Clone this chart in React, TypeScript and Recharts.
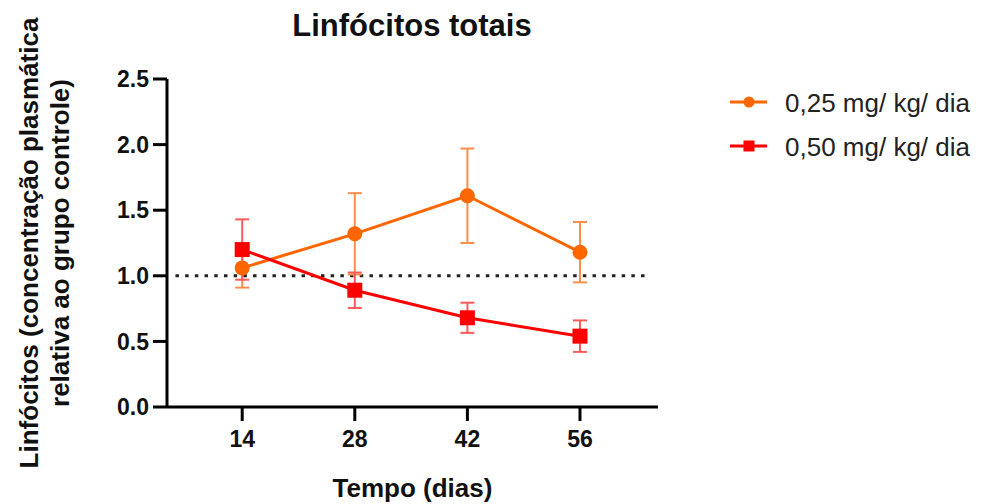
import { ErrorBar, LineChart, Line, ReferenceLine, XAxis, YAxis } from 'recharts';

const FONT = '"Liberation Sans", Arial, Helvetica, sans-serif';

const days = [14, 28, 42, 56];
const dose025 = [1.06, 1.32, 1.61, 1.18];
const dose025Err = [0.15, 0.31, 0.36, 0.23];
const dose050 = [1.2, 0.89, 0.68, 0.54];
const dose050Err = [0.23, 0.135, 0.115, 0.12];

const xTicks = [14, 28, 42, 56];
const yTicks = [0, 0.5, 1.0, 1.5, 2.0, 2.5];
const controlLevel = 1.0;
const controlSpan = [5.7, 64.3];

const SERIES = [
  { key: 'd025', err: 'd025Err', name: '0,25 mg/ kg/ dia', color: '#FF6600', errColor: '#FF8E4A', shape: 'circle' },
  { key: 'd050', err: 'd050Err', name: '0,50 mg/ kg/ dia', color: '#FF0000', errColor: '#FF5A5A', shape: 'square' },
];

const data = days.map((d, i) => ({
  day: d,
  d025: dose025[i],
  d025Err: dose025Err[i],
  d050: dose050[i],
  d050Err: dose050Err[i],
}));

const tickStyle = { fontSize: 23, fontWeight: 700, fill: '#111', fontFamily: FONT };

function SquareDot(props: any) {
  const { cx, cy, fill, index } = props;
  if (cx == null || cy == null) return <g key={index} />;
  return <rect key={index} x={cx - 7.5} y={cy - 7.5} width={15} height={15} fill={fill} />;
}

function YLabel(props: any) {
  const cy = props.viewBox.y + props.viewBox.height / 2;
  const style = { fontSize: 26, fontWeight: 700, fill: '#111', fontFamily: FONT };
  return (
    <g>
      <text transform={`translate(38, ${cy}) rotate(-90)`} textAnchor="middle" style={style}>
        Linfócitos (concentração plasmática
      </text>
      <text transform={`translate(69, ${cy}) rotate(-90)`} textAnchor="middle" style={style}>
        relativa ao grupo controle)
      </text>
    </g>
  );
}

function XLabel(props: any) {
  const { x, y, width, height } = props.viewBox;
  return (
    <text x={x + width / 2} y={y + height - 7} textAnchor="middle"
      style={{ fontSize: 26, fontWeight: 700, fill: '#111', fontFamily: FONT }}>
      Tempo (dias)
    </text>
  );
}

function LegendBox() {
  return (
    <svg width={260} height={96} style={{ position: 'absolute', left: 728, top: 80 }}>
      {SERIES.map((s, i) => {
        const y = 22 + i * 44;
        return (
          <g key={s.key}>
            <line x1={2} x2={39} y1={y} y2={y} stroke={s.color} strokeWidth={3} />
            {s.shape === 'circle'
              ? <circle cx={21} cy={y} r={5.5} fill={s.color} />
              : <rect x={15.5} y={y - 5.5} width={11} height={11} fill={s.color} />}
            <text x={57} y={y + 10} style={{ fontSize: 26, fill: '#222', fontFamily: FONT }}>{s.name}</text>
          </g>
        );
      })}
    </svg>
  );
}

export default function App() {
  return (
    <div style={{ position: 'absolute', left: 0, top: 0, width: 989, height: 504, background: '#fff' }}>
      <div style={{
        position: 'absolute', left: 0, width: 824, top: 10, textAlign: 'center',
        fontFamily: FONT, fontSize: 31, fontWeight: 700, lineHeight: '31px', color: '#111',
      }}>
        Linfócitos totais
      </div>
      <LineChart width={989} height={504} data={data} margin={{ top: 79, right: 331, bottom: 0, left: 0 }}>
        <XAxis
          dataKey="day"
          type="number"
          domain={[4.65, 65.7]}
          ticks={xTicks}
          allowDataOverflow
          height={97}
          tick={tickStyle}
          tickSize={14}
          tickMargin={10}
          axisLine={{ stroke: '#000', strokeWidth: 3 }}
          tickLine={{ stroke: '#000', strokeWidth: 3 }}
          label={<XLabel />}
        />
        <YAxis
          type="number"
          domain={[0, 2.5]}
          ticks={yTicks}
          width={167}
          tick={tickStyle}
          tickSize={14}
          tickMargin={4}
          tickFormatter={(v: number) => v.toFixed(1)}
          axisLine={{ stroke: '#000', strokeWidth: 3 }}
          tickLine={{ stroke: '#000', strokeWidth: 3 }}
          label={<YLabel />}
        />
        <ReferenceLine
          segment={[{ x: controlSpan[0], y: controlLevel }, { x: controlSpan[1], y: controlLevel }]}
          stroke="#222"
          strokeWidth={3}
          strokeDasharray="3.5 6.2"
        />
        {SERIES.map((s) => (
          <Line
            key={s.key}
            dataKey={s.key}
            name={s.name}
            stroke={s.color}
            strokeWidth={3}
            fill={s.color}
            isAnimationActive={false}
            dot={s.shape === 'circle'
              ? { r: 7.5, fill: s.color, stroke: 'none' }
              : (p: any) => <SquareDot {...p} fill={s.color} />}
            activeDot={false}
          >
            <ErrorBar dataKey={s.err} direction="y" width={7} strokeWidth={2} stroke={s.errColor} isAnimationActive={false} />
          </Line>
        ))}
      </LineChart>
      <LegendBox />
    </div>
  );
}
